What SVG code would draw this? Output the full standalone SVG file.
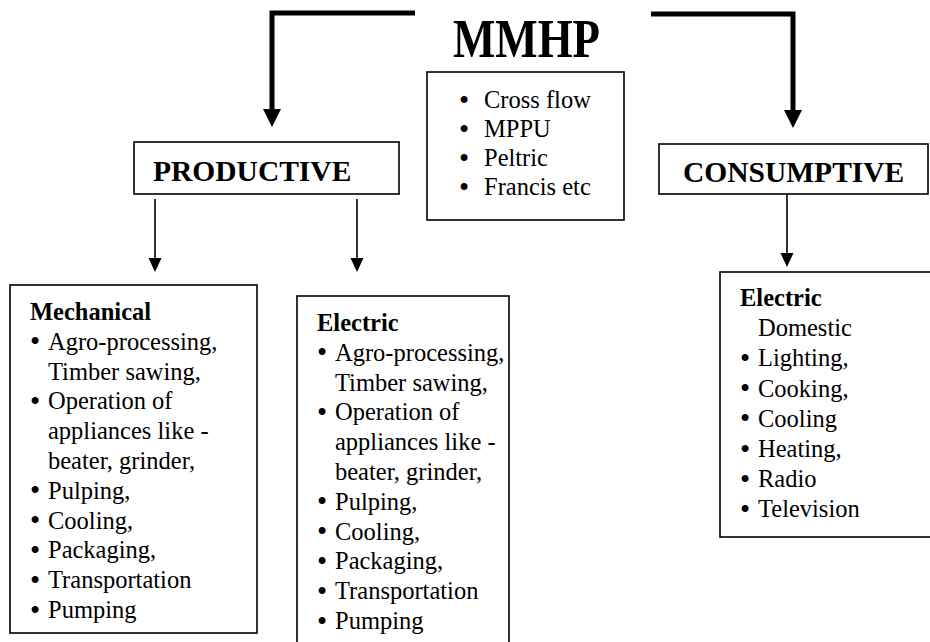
<svg xmlns="http://www.w3.org/2000/svg" width="930" height="642" viewBox="0 0 930 642">
<style>
  .box { fill: #fff; stroke: #000; stroke-width: 1.6; }
  .t { font-family: "Liberation Serif", "Times New Roman", serif; font-size: 24.5px; fill: #000; }
  .b { font-weight: bold; }
  .blt { text-anchor: middle; font-size: 29px; }
  .title { font-size: 54px; }
  .head { font-size: 29.5px; }
  .thick { fill: none; stroke: #000; stroke-width: 5; stroke-linejoin: miter; }
  .thin { fill: none; stroke: #000; stroke-width: 1.6; }
</style>
<defs>
  <marker id="headThick" markerUnits="userSpaceOnUse" markerWidth="19" markerHeight="19" refX="0" refY="9" orient="auto" overflow="visible">
    <path d="M0,0 L18,9 L0,18 Z" fill="#000"/>
  </marker>
  <marker id="headThin" markerUnits="userSpaceOnUse" markerWidth="15" markerHeight="14" refX="0" refY="6.5" orient="auto" overflow="visible">
    <path d="M0,0 L14,6.5 L0,13 Z" fill="#000"/>
  </marker>
</defs>
<rect width="930" height="642" fill="#fff"/>

<g id="connectors">
  <path class="thick" d="M415,13 H272 V109" marker-end="url(#headThick)"/>
  <path class="thick" d="M651,14 H793 V110" marker-end="url(#headThick)"/>
  <line class="thin" x1="155" y1="199" x2="155" y2="258" marker-end="url(#headThin)"/>
  <line class="thin" x1="357" y1="199" x2="357" y2="258" marker-end="url(#headThin)"/>
  <line class="thin" x1="787" y1="194" x2="787" y2="253" marker-end="url(#headThin)"/>
</g>

<g id="mmhp">
  <text class="t b title" x="453" y="57" textLength="147" lengthAdjust="spacingAndGlyphs">MMHP</text>
</g>

<g id="types">
  <rect class="box" x="427" y="72" width="197" height="148"/>
  <text class="t blt" x="464" y="109.5">•</text><text class="t" x="484" y="108">Cross flow</text>
  <text class="t blt" x="464" y="138.5">•</text><text class="t" x="484" y="137">MPPU</text>
  <text class="t blt" x="464" y="167.5">•</text><text class="t" x="484" y="166">Peltric</text>
  <text class="t blt" x="464" y="196.5">•</text><text class="t" x="484" y="195">Francis etc</text>
</g>

<g id="productive">
  <rect class="box" x="134" y="142" width="265" height="52"/>
  <text class="t b head" x="153" y="181">PRODUCTIVE</text>
</g>

<g id="consumptive">
  <rect class="box" x="659" y="144" width="269" height="50"/>
  <text class="t b head" x="683" y="182">CONSUMPTIVE</text>
</g>

<g id="mechanical">
  <rect class="box" x="10" y="285" width="247" height="348"/>
  <text class="t b" x="30" y="320">Mechanical</text>
  <text class="t blt" x="35" y="351.3">•</text><text class="t" x="48" y="349.8">Agro-processing,</text>
  <text class="t" x="48" y="379.6">Timber sawing,</text>
  <text class="t blt" x="35" y="410.9">•</text><text class="t" x="48" y="409.4">Operation of</text>
  <text class="t" x="48" y="439.2">appliances like -</text>
  <text class="t" x="48" y="469">beater, grinder,</text>
  <text class="t blt" x="35" y="500.3">•</text><text class="t" x="48" y="498.8">Pulping,</text>
  <text class="t blt" x="35" y="530.1">•</text><text class="t" x="48" y="528.6">Cooling,</text>
  <text class="t blt" x="35" y="559.9">•</text><text class="t" x="48" y="558.4">Packaging,</text>
  <text class="t blt" x="35" y="589.7">•</text><text class="t" x="48" y="588.2">Transportation</text>
  <text class="t blt" x="35" y="619.5">•</text><text class="t" x="48" y="618">Pumping</text>
</g>

<g id="electric-productive">
  <rect class="box" x="297" y="296" width="212" height="360"/>
  <text class="t b" x="317" y="331">Electric</text>
  <text class="t blt" x="322" y="362.3">•</text><text class="t" x="335" y="360.8">Agro-processing,</text>
  <text class="t" x="335" y="390.6">Timber sawing,</text>
  <text class="t blt" x="322" y="421.9">•</text><text class="t" x="335" y="420.4">Operation of</text>
  <text class="t" x="335" y="450.2">appliances like -</text>
  <text class="t" x="335" y="480">beater, grinder,</text>
  <text class="t blt" x="322" y="511.3">•</text><text class="t" x="335" y="509.8">Pulping,</text>
  <text class="t blt" x="322" y="541.1">•</text><text class="t" x="335" y="539.6">Cooling,</text>
  <text class="t blt" x="322" y="570.9">•</text><text class="t" x="335" y="569.4">Packaging,</text>
  <text class="t blt" x="322" y="600.7">•</text><text class="t" x="335" y="599.2">Transportation</text>
  <text class="t blt" x="322" y="630.5">•</text><text class="t" x="335" y="629">Pumping</text>
</g>

<g id="electric-consumptive">
  <rect class="box" x="720" y="272" width="230" height="265"/>
  <text class="t b" x="740" y="306">Electric</text>
  <text class="t" x="758" y="336">Domestic</text>
  <text class="t blt" x="745" y="367.5">•</text><text class="t" x="758" y="366">Lighting,</text>
  <text class="t blt" x="745" y="398">•</text><text class="t" x="758" y="396.5">Cooking,</text>
  <text class="t blt" x="745" y="428">•</text><text class="t" x="758" y="426.5">Cooling</text>
  <text class="t blt" x="745" y="458.5">•</text><text class="t" x="758" y="457">Heating,</text>
  <text class="t blt" x="745" y="488.5">•</text><text class="t" x="758" y="487">Radio</text>
  <text class="t blt" x="745" y="518.5">•</text><text class="t" x="758" y="517">Television</text>
</g>
</svg>
